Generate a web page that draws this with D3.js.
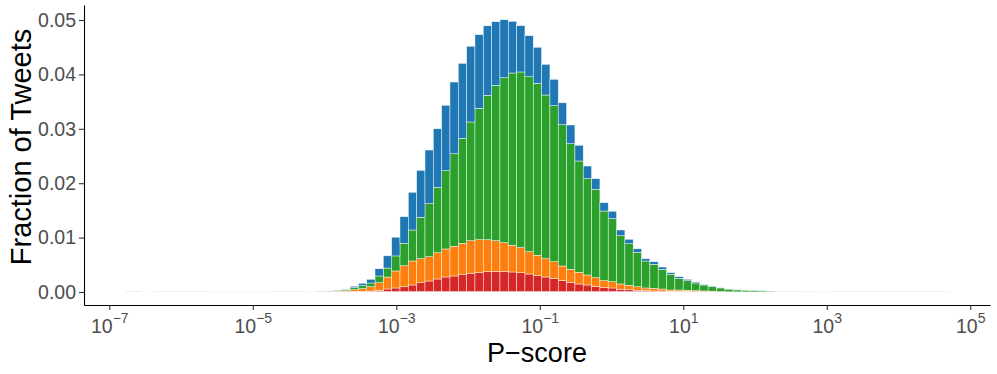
<!DOCTYPE html>
<html>
<head>
<meta charset="utf-8">
<script src="https://cdn.jsdelivr.net/npm/d3@7"></script>
<style>
  body { margin: 0; background: #fff; }
  svg { display: block; font-family: "Liberation Sans", Arial, sans-serif; }
</style>
</head>
<body>
<svg id="chart" width="997" height="374"></svg>
<script>
// histogram bins on log10(P-score): first edge and width in decades
const binStart = -6.78;
const binWidth = 0.1161;

const seriesKeys = ["purple", "red", "orange", "green", "blue"];
const seriesColors = ["#9467bd", "#d62728", "#ff7f0e", "#2ca02c", "#1f77b4"];

const blueVals = [
  0.00002,0.00002,0,0.00001,0.00001,0.00001,0.00001,0.00001,0.00001,0.00001,
  0.00002,0.00002,0.00002,0.00002,0.00002,0.00002,0.00002,0.00003,0.00003,0.00003,
  0.00003,0.00002,0.00002,0.00003,0.00004,0.00007,0.00013,0.00026,0.00044,0.00068,
  0.00134,0.00226,0.00344,0.00489,0.00693,0.00864,0.00987,0.01077,0.01202,0.01318,
  0.01379,0.01392,0.01353,0.01279,0.01169,0.01066,0.0095,0.00851,0.00754,0.00662,
  0.00564,0.00485,0.00404,0.00344,0.00289,0.00233,0.00195,0.00153,0.00136,0.00105,
  0.00081,0.00066,0.00042,0.00048,0.00042,0.00029,0.00029,0.00026,0.00018,0.00013,
  0.00007,0.00006,0.00004,0.00004,0.00003,0.00003,0.00002,0.00002,0.00001,0.00001,
  0.00001,0.00001,0.00001,0.00001,0.00001,0.00001,0.00001,0.00001,0.00001,0.00001,
  0.00001,0.00001,0.00001,0.00001,0.00001,0.00001,0.00001,0.00001,0.00001
];
const greenVals = [
  0.00002,0.00002,0,0.00001,0.00002,0.00002,0.00002,0.00002,0.00002,0.00002,
  0.00002,0.00002,0.00002,0.00002,0.00003,0.00003,0.00003,0.00003,0.00003,0.00003,
  0.00003,0.00002,0.00002,0.00004,0.00006,0.00011,0.00018,0.00037,0.00055,0.00068,
  0.00123,0.00165,0.00276,0.00412,0.0057,0.00761,0.00974,0.01202,0.01439,0.01702,
  0.0193,0.02182,0.02415,0.02654,0.02857,0.03033,0.03167,0.0323,0.03217,0.03162,
  0.03009,0.02868,0.02597,0.02309,0.02046,0.0177,0.01625,0.01281,0.01158,0.00888,
  0.00765,0.00632,0.00496,0.00441,0.00362,0.00289,0.00215,0.00176,0.00142,0.0011,
  0.00085,0.00068,0.00048,0.00036,0.00031,0.00026,0.0002,0.00015,0.0001,0.00007,
  0.00006,0.00005,0.00005,0.00004,0.00004,0.00003,0.00003,0.00003,0.00003,0.00002,
  0.00002,0.00002,0.00002,0.00002,0.00002,0.00002,0.00002,0.00002,0.00002
];
const orangeVals = [
  0,0,0,0.00001,0.00001,0.00001,0.00001,0.00001,0.00001,0.00001,
  0.00001,0.00001,0.00001,0.00001,0.00001,0.00001,0.00001,0.00001,0.00002,0.00002,
  0.00002,0.00001,0.00001,0.00004,0.00006,0.00013,0.00018,0.00029,0.00048,0.00079,
  0.0014,0.0022,0.00313,0.00386,0.00441,0.00441,0.00447,0.00483,0.00515,0.00546,
  0.00577,0.00599,0.00607,0.00588,0.0057,0.00533,0.00491,0.0046,0.0041,0.00375,
  0.00336,0.00305,0.0027,0.00239,0.00215,0.00184,0.00158,0.00129,0.00116,0.00097,
  0.00081,0.00066,0.0005,0.0005,0.00037,0.00024,0.00024,0.00018,0.00018,0.00013,
  0.00013,0.00005,0.00003,0.00002,0.00002,0.00002,0.00001,0.00001,0.00001,0.00001,
  0.00001,0.00001,0.00001,0.00001,0.00001,0.00001,0.00001,0.00001,0.00001,0.00001,
  0.00001,0.00001,0.00001,0.00001,0.00001,0.00001,0.00001,0.00001,0.00001
];
const redVals = [
  0,0,0,0,0,0,0,0.00001,0.00001,0.00001,
  0.00001,0.00001,0.00001,0.00001,0.00001,0.00001,0.00001,0.00001,0.00001,0.00001,
  0.00001,0.00001,0.00001,0.00002,0.00002,0.00002,0.00006,0.00009,0.00009,0.00014,
  0.00023,0.00047,0.00066,0.00089,0.00121,0.00163,0.00194,0.00231,0.00268,0.00286,
  0.0031,0.00336,0.00347,0.00365,0.00365,0.00365,0.0036,0.00347,0.00323,0.00292,
  0.00268,0.00244,0.002,0.0017,0.00139,0.00121,0.00097,0.00071,0.00066,0.00042,
  0.00034,0.00023,0.00016,0.0001,0.0001,0.00009,0.00009,0.00009,0.00002,0.00002,
  0.00002,0.00002,0.00001,0,0,0,0,0,0,0,
  0,0,0,0,0,0,0,0,0,0,
  0,0,0,0,0,0,0,0,0
];
const purpleVals = [
  0,0,0,0,0,0,0,0,0,0,
  0,0,0,0,0,0,0,0,0,0,
  0,0,0,0,0,0,0,0.00004,0.00004,0.00004,
  0.00008,0.00008,0.00008,0.00008,0.00008,0.00008,0.00008,0.00008,0.00008,0.00008,
  0.00008,0.00008,0.00008,0.00008,0.00008,0.00008,0.00008,0.00008,0.00008,0.00008,
  0.00008,0.00008,0.00008,0.00008,0.00008,0.00008,0.00008,0.00008,0.00008,0.00008,
  0.00008,0.00008,0.00008,0.00008,0.00008,0.00004,0.00004,0.00004,0.00004,0.00004,
  0,0,0,0,0,0,0,0,0,0,
  0,0,0,0,0,0,0,0,0,0,
  0,0,0,0,0,0,0,0,0
];

const yTicks = [0, 0.01, 0.02, 0.03, 0.04, 0.05];
const xTickExps = [-7, -5, -3, -1, 1, 3, 5];

const svg = d3.select("#chart");

const x = d3.scaleLog()
    .domain([Math.pow(10, -7.353), Math.pow(10, 5.275)])
    .range([84, 990]);
const y = d3.scaleLinear()
    .domain([-0.00239, 0.05276])
    .range([305, 5]);

const rows = blueVals.map((d, i) => ({
    lo: binStart + i * binWidth,
    purple: purpleVals[i],
    red: redVals[i],
    orange: orangeVals[i],
    green: greenVals[i],
    blue: blueVals[i]
}));

const stacked = d3.stack().keys(seriesKeys)(rows);

svg.append("g")
    .selectAll("g")
    .data(stacked)
    .join("g")
    .attr("fill", (d, i) => seriesColors[i])
    .selectAll("rect")
    .data(d => d)
    .join("rect")
    .attr("x", d => x(Math.pow(10, d.data.lo)))
    .attr("width", d => x(Math.pow(10, d.data.lo + binWidth)) - x(Math.pow(10, d.data.lo)))
    .attr("y", d => y(d[1]))
    .attr("height", d => y(d[0]) - y(d[1]))
    .attr("stroke", "#fff")
    .attr("stroke-opacity", 0.75)
    .attr("stroke-width", 0.6);

// y axis
const yAxis = svg.append("g")
    .attr("transform", "translate(84,0)")
    .call(d3.axisLeft(y).tickValues(yTicks).tickSize(5).tickSizeOuter(0).tickPadding(3)
        .tickFormat(d3.format(".2f")));
yAxis.select(".domain").attr("stroke", "#000").attr("stroke-width", 1.1);
yAxis.selectAll(".tick line").attr("stroke", "#333").attr("stroke-width", 1.1);
yAxis.selectAll(".tick text")
    .attr("fill", "#4d4d4d")
    .style("font-size", "19.5px")
    .style("font-family", "'Liberation Sans', Arial, sans-serif");

// x axis
const xAxis = svg.append("g")
    .attr("transform", "translate(0,305)")
    .call(d3.axisBottom(x).tickValues(xTickExps.map(e => Math.pow(10, e)))
        .tickSize(5).tickSizeOuter(0).tickFormat(""));
xAxis.select(".domain").attr("stroke", "#000").attr("stroke-width", 1.1);
xAxis.selectAll(".tick line").attr("stroke", "#333").attr("stroke-width", 1.1);
xAxis.selectAll(".tick text").remove();

const xLab = xAxis.selectAll(".tick")
    .append("text")
    .attr("y", 28)
    .attr("text-anchor", "middle")
    .attr("fill", "#4d4d4d")
    .style("font-size", "19.5px");
xLab.append("tspan").text("10");
xLab.append("tspan")
    .attr("dy", -10)
    .style("font-size", "14px")
    .text((d, i) => String(xTickExps[i]).replace("-", "\u2212"));

// axis titles
svg.append("text")
    .attr("x", 537)
    .attr("y", 362)
    .attr("text-anchor", "middle")
    .attr("fill", "#000")
    .style("font-size", "27px")
    .text("P\u2212score");

svg.append("text")
    .attr("transform", "translate(31,147) rotate(-90)")
    .attr("text-anchor", "middle")
    .attr("fill", "#000")
    .style("font-size", "29px")
    .text("Fraction of Tweets");
</script>
</body>
</html>
